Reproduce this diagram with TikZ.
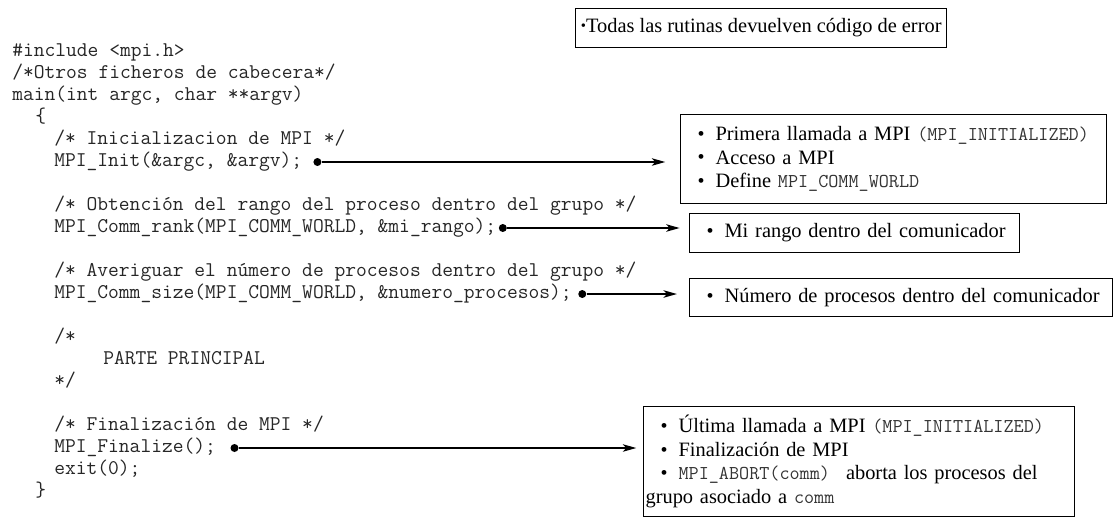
\documentclass[tikz,border=0pt]{standalone}
\usepackage{fontspec}
\setmainfont{Liberation Serif}
\usepackage{xcolor}
\usetikzlibrary{arrows.meta,positioning}

\newcommand{\cod}[1]{{\fontsize{14.7}{17}\ttfamily\color{black!80}#1}}
\newcommand{\itm}[1]{\hspace*{12.75pt}\makebox[13.5pt][l]{\raisebox{0.3pt}{\fontsize{15}{12}\selectfont\textbullet}}\mbox{#1}}

\begin{document}
\begin{tikzpicture}[x=0.75pt, y=-0.75pt,
    code/.style={anchor=west, inner sep=0pt, font=\fontsize{15.7}{18}\ttfamily,
                 text=black!85, text height=9.6pt, text depth=2.4pt},
    note/.style={draw, line width=0.9pt, anchor=north west, inner xsep=0pt,
                 inner ysep=0pt, align=left, font=\fontsize{15.3}{17.6}\selectfont},
    dot/.style={circle, fill=black, inner sep=0pt, minimum size=6pt},
    conn/.style={line width=1.6pt, -{Stealth[length=10pt, width=5.5pt, inset=2.5pt]}}]
    \useasboundingbox (0,0) rectangle (1114,519);

    % Codigo
    \node[code] (inc)     at (12, 52)  {\#include <mpi.h>};
    \node[code] (otros)   at (12, 74)  {/*Otros ficheros de cabecera*/};
    \node[code] (mainl)   at (12, 96)  {main(int argc, char **argv)};
    \node[code] (llave)   at (35, 118) {\{};
    \node[code] (cini)    at (54, 140) {/* Inicializacion de MPI */};
    \node[code] (init)    at (54, 162) {MPI\_Init(\&argc, \&argv);};
    \node[code] (cobt)    at (54, 206) {/* Obtención del rango del proceso dentro del grupo */};
    \node[code] (crank)   at (54, 228) {MPI\_Comm\_rank(MPI\_COMM\_WORLD, \&mi\_rango);};
    \node[code] (cave)    at (54, 272) {/* Averiguar el número de procesos dentro del grupo */};
    \node[code] (csize)   at (54, 294) {MPI\_Comm\_size(MPI\_COMM\_WORLD, \&numero\_procesos);};
    \node[code] (cabre)   at (54, 338) {/*};
    \node[code] (parte)   at (103, 360) {PARTE PRINCIPAL};
    \node[code] (ccierra) at (54, 382) {*/};
    \node[code] (cfin)    at (54, 426) {/* Finalización de MPI */};
    \node[code] (final)   at (54, 448) {MPI\_Finalize();};
    \node[code] (salida)  at (54, 470) {exit(0);};
    \node[code] (cllave)  at (35, 492) {\}};

    % Cuadros
    \node[note, inner xsep=4pt, minimum height=29.25pt] (todas) at (575, 8)
        {\raisebox{1.5pt}{\fontsize{11}{9}\selectfont\textbullet}Todas las rutinas devuelven código de error};
    \node[note, minimum height=66.75pt, text width=319.5pt] (ini) at (680, 114)
        {\itm{Primera llamada a MPI \cod{(MPI\_INITIALIZED)}}\\
         \itm{Acceso a MPI}\\
         \itm{Define \cod{MPI\_COMM\_WORLD}}};
    \node[note, minimum height=29.25pt, text width=247.5pt] (rango) at (689, 213)
        {\itm{Mi rango dentro del comunicador}};
    \node[note, minimum height=28.5pt, text width=317.25pt] (tam) at (689, 278)
        {\itm{Número de procesos dentro del comunicador}};
    \node[note, minimum height=82.5pt, text width=323.25pt] (fin) at (643, 406)
        {\itm{Última llamada a MPI \cod{(MPI\_INITIALIZED)}}\\
         \itm{Finalización de MPI}\\
         \itm{\cod{MPI\_ABORT(comm)}\hspace{12pt}aborta los procesos del}\\
         \hspace*{1.5pt}grupo asociado a \cod{comm}};

    % Flechas
    \node[dot, right=8pt of init]    (d1) {};
    \node[dot, right=1.5pt of crank] (d2) {};
    \node[dot, right=4.5pt of csize] (d3) {};
    \node[dot, right=10.5pt of final] (d4) {};
    \draw[conn, shorten >=11pt] (d1) -- (d1 -| ini.west);
    \draw[conn, shorten >=7pt]  (d2) -- (d2 -| rango.west);
    \draw[conn, shorten >=9pt]  (d3) -- (d3 -| tam.west);
    \draw[conn, shorten >=5pt]  (d4) -- (d4 -| fin.west);
\end{tikzpicture}
\end{document}
